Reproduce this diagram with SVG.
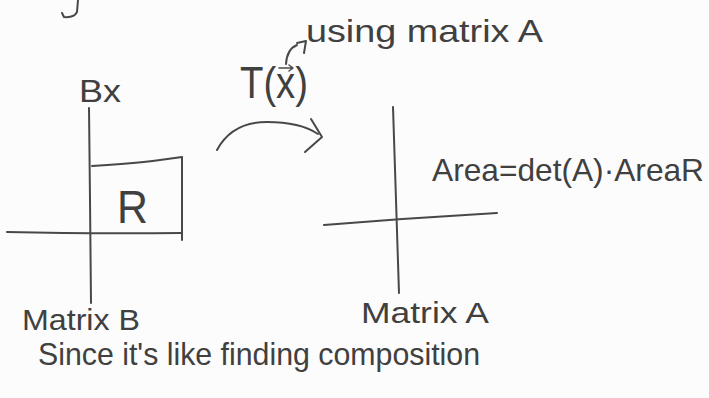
<svg xmlns="http://www.w3.org/2000/svg" width="709" height="398" viewBox="0 0 709 398">
  <style>
    .ink { fill: none; stroke: #484848; stroke-width: 2; stroke-linecap: round; stroke-linejoin: round; }
    .thin { fill: none; stroke: #484848; stroke-width: 1.5; stroke-linecap: round; stroke-linejoin: round; }
    .txt { font-family: "Liberation Sans", "DejaVu Sans", sans-serif; fill: #404040; }
  </style>
  <rect x="0" y="0" width="709" height="398" fill="#fcfcfc"/>

  <!-- cut-off fragment at top edge -->
  <path class="ink" d="M78 0 L77 12 Q74 18 64 17 L62 13"/>

  <g id="plot-B">
    <text class="txt" x="79" y="102" font-size="32" textLength="42" lengthAdjust="spacingAndGlyphs">Bx</text>
    <path class="ink" d="M89 108 L90 200 L91 303"/>
    <path class="ink" d="M7 232 Q90 234 182 233"/>
    <path class="ink" d="M92 166 Q140 163 160 160 L182 157 L182 240"/>
    <text class="txt" x="117" y="223" font-size="46" textLength="31" lengthAdjust="spacingAndGlyphs">R</text>
    <text class="txt" x="22" y="330" font-size="30" textLength="118" lengthAdjust="spacingAndGlyphs">Matrix B</text>
  </g>

  <g id="plot-A">
    <path class="ink" d="M393 107 L396 200 L399 293"/>
    <path class="ink" d="M324 225 Q410 218 497 213"/>
    <text class="txt" x="432" y="181" font-size="32" textLength="272" lengthAdjust="spacingAndGlyphs">Area=det(A)·AreaR</text>
    <text class="txt" x="361" y="323" font-size="30" textLength="128" lengthAdjust="spacingAndGlyphs">Matrix A</text>
  </g>

  <g id="transform-label">
    <text class="txt" x="240" y="98" font-size="44" textLength="68" lengthAdjust="spacingAndGlyphs">T(x)</text>
    <path class="thin" d="M279 68 L293 68 M289 65 L293 68 L289 71"/>
    <text class="txt" x="306" y="42" font-size="32" textLength="237" lengthAdjust="spacingAndGlyphs">using matrix A</text>
  </g>

  <g id="connectors">
    <path class="ink" d="M217 150 Q232 122 267 122 Q300 122 318 134"/>
    <path class="ink" d="M311 119 L322 137 L305 152"/>
    <path class="ink" d="M286 64 Q287 49 297 45"/>
    <path class="ink" d="M297 43 L306 41 L304 53"/>
  </g>

  <g id="caption">
    <text class="txt" x="38" y="365" font-size="32" textLength="442" lengthAdjust="spacingAndGlyphs">Since it's like finding composition</text>
  </g>
</svg>
